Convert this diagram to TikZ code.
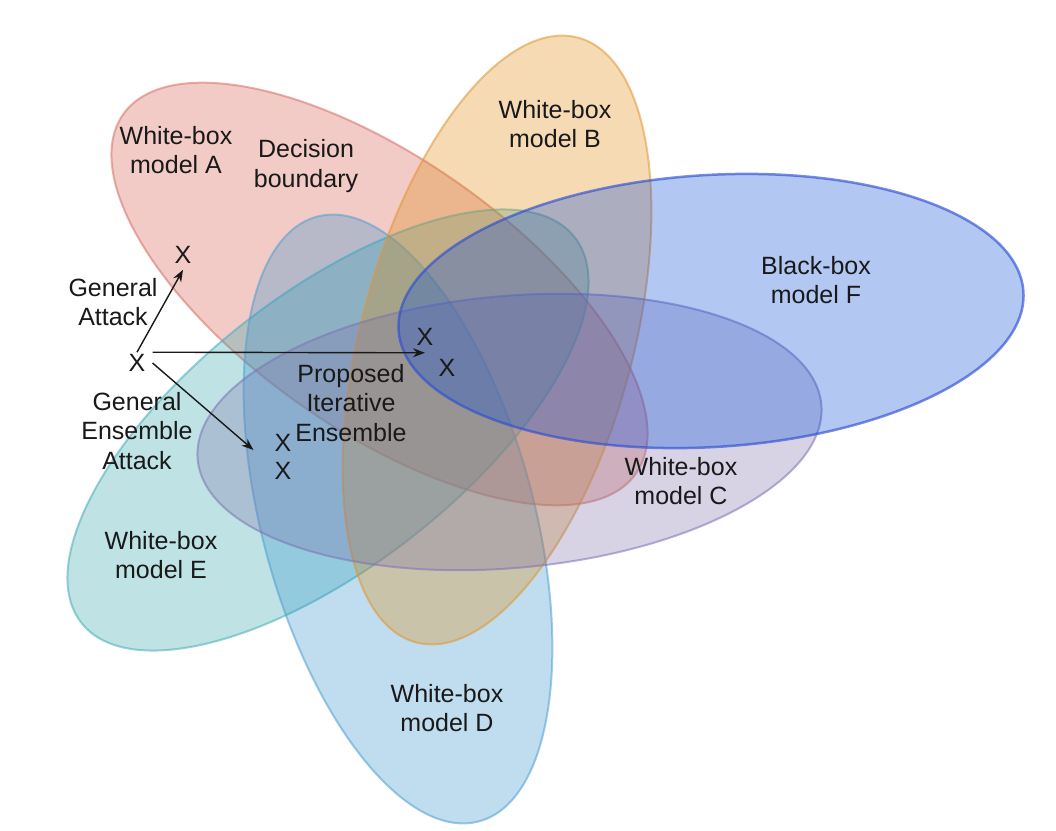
\documentclass[tikz,border=0pt]{standalone}
\usepackage{fontspec}
\setmainfont{Liberation Sans}
\usetikzlibrary{arrows.meta}
\definecolor{fillA}{RGB}{212,85,72}
\definecolor{lineA}{RGB}{214,112,102}
\definecolor{fillB}{RGB}{222,135,8}
\definecolor{lineB}{RGB}{224,150,50}
\definecolor{fillC}{RGB}{125,112,172}
\definecolor{lineC}{RGB}{125,115,180}
\definecolor{fillD}{RGB}{48,145,205}
\definecolor{lineD}{RGB}{80,160,210}
\definecolor{fillE}{RGB}{45,165,172}
\definecolor{lineE}{RGB}{70,175,182}
\definecolor{fillF}{RGB}{5,72,218}
\definecolor{lineF}{RGB}{45,80,210}
\definecolor{ink}{RGB}{25,25,25}
\begin{document}
\begin{tikzpicture}[x=1pt,y=-1pt,
  lbl/.style={font=\fontsize{25}{29.5}\selectfont, align=center, text=ink, inner sep=0pt},
  mk/.style={font=\fontsize{25}{29.5}\selectfont, text=ink, inner sep=2pt},
  arr/.style={-{Stealth[length=12pt,width=9pt]}, line width=1.4pt, draw=ink},
  venn/.style={line width=2pt, fill opacity=0.3, draw opacity=0.55}]
\fill[white] (0,0) rectangle (1056,830);
\useasboundingbox (0,0) rectangle (1056,830);

% sets
\path[venn, fill=fillA, draw=lineA, rotate around={-35:(379.5,294)}] (379.5,294) ellipse [x radius=313, y radius=136];
\path[venn, fill=fillE, draw=lineE, rotate around={38:(328,430)}] (328,430) ellipse [x radius=313, y radius=136];
\path[venn, fill=fillD, draw=lineD, rotate around={-75:(398,519)}] (398,519) ellipse [x radius=313, y radius=136];
\path[venn, fill=fillB, draw=lineB, rotate around={75:(497,340)}] (497,340) ellipse [x radius=313, y radius=136];
\path[venn, fill=fillC, draw=lineC, rotate around={5:(509.5,432)}] (509.5,432) ellipse [x radius=313, y radius=136];
\path[venn, fill=fillF, draw=lineF, line width=2.5pt, draw opacity=0.65, rotate around={3.5:(711,311)}] (711,311) ellipse [x radius=313, y radius=136];

% labels
\node[lbl] (la) at (176,150) {White-box\\model A};
\node[lbl] (db) at (306,166) {Decision\\boundary};
\node[lbl] (lb) at (555,124) {White-box\\model B};
\node[lbl] (lf) at (816,280) {Black-box\\model F};
\node[lbl] (lc) at (681,481) {White-box\\model C};
\node[lbl] (le) at (161,555) {White-box\\model E};
\node[lbl] (ld) at (447,708) {White-box\\model D};
\node[lbl] (ga) at (113,302) {General\\Attack};
\node[lbl] (gea) at (137,431) {General\\Ensemble\\Attack};
\node[lbl] (pie) at (351,403) {Proposed\\Iterative\\Ensemble};

% samples
\node[mk] (x0) at (137,363) {X};
\node[mk] (xa) at (183,255) {X};
\node[mk] (xi1) at (425,337) {X};
\node[mk] (xi2) at (447,368) {X};
\node[mk] (xe1) at (283,443) {X};
\node[mk] (xe2) at (283,471) {X};

% attacks
\draw[arr] (x0.north) -- ([yshift=-4pt]xa.south);
\draw[arr] ([xshift=5pt]x0.north east) -- ([yshift=-5pt]xi1.south);
\draw[arr] ([xshift=5pt]x0.east) -- ([xshift=-19pt,yshift=-7pt]xe1.west);
\end{tikzpicture}
\end{document}
